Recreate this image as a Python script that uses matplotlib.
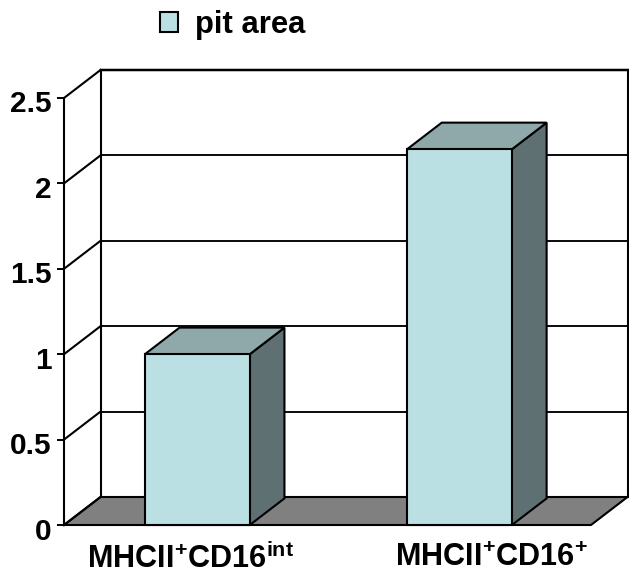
import matplotlib
matplotlib.use('Agg')
import matplotlib.pyplot as plt
from matplotlib.patches import Polygon, Patch
from matplotlib.transforms import ScaledTranslation

plt.rcParams['font.family'] = ['Liberation Sans', 'DejaVu Sans']
plt.rcParams['font.weight'] = 'bold'
plt.rcParams['mathtext.fontset'] = 'custom'
plt.rcParams['mathtext.rm'] = 'Liberation Sans:bold'
plt.rcParams['mathtext.bf'] = 'Liberation Sans:bold'
plt.rcParams['mathtext.it'] = 'Liberation Sans:bold'

categories = [r'MHCII$^{\mathbf{+}}$CD16$^{\mathbf{int}}$', r'MHCII$^{\mathbf{+}}$CD16$^{\mathbf{+}}$']
pit_area = [1.0, 2.2]
ticks = [0, 0.5, 1, 1.5, 2, 2.5]
tick_labels = ['0', '0.5', '1', '1.5', '2', '2.5']
series_name = 'pit area'

W, H = 629, 577
fig = plt.figure(figsize=(W / 100, H / 100), dpi=100)
L, R, B, T = 64, 591, 525, 98
ax = fig.add_axes([L / W, 1 - B / H, (R - L) / W, (B - T) / H])
ax.set_xlim(0, 2)
ax.set_ylim(0, 2.5)
ax.patch.set_visible(False)
for s in ax.spines.values():
    s.set_visible(False)

ddx = 36.5 / (R - L) * 2
ddy = 28 / (B - T) * 2.5
lw = 1.5
col = 'black'

# floor
ax.add_patch(Polygon([(0, 0), (2, 0), (2 + ddx, ddy), (ddx, ddy)], closed=True,
                     fc='#808080', ec='none', clip_on=False, zorder=1))
ax.plot([0, 2, 2 + ddx, ddx, 0], [0, 0, ddy, ddy, 0], color=col, lw=lw, clip_on=False, zorder=1.5)

# walls and gridlines
for t in ticks:
    ax.plot([0, ddx], [t, t + ddy], color=col, lw=lw, clip_on=False, zorder=2)
    ax.plot([ddx, 2 + ddx], [t + ddy, t + ddy], color=col, lw=lw * (1.2 if t == 2.5 else 0.9), clip_on=False, zorder=2)
ax.plot([0, 0], [0, 2.5], color=col, lw=lw, clip_on=False, zorder=2)
ax.plot([ddx, ddx], [ddy, 2.5 + ddy], color=col, lw=lw, clip_on=False, zorder=2)
ax.plot([2 + ddx, 2 + ddx], [ddy, 2.5 + ddy], color=col, lw=lw, clip_on=False, zorder=2)

# bars
bw = 0.398
bdx = ddx * 0.95
bdy = ddy * 0.95
for i, v in enumerate(pit_area):
    x0 = i * 0.995 + 0.5 - bw / 2 + 0.006
    x1 = x0 + bw
    ax.add_patch(Polygon([(x1, 0), (x1 + bdx, bdy), (x1 + bdx, v + bdy), (x1, v)], closed=True,
                         fc='#5E7072', ec=col, lw=lw, clip_on=False, zorder=3))
    ax.add_patch(Polygon([(x0, v), (x1, v), (x1 + bdx, v + bdy), (x0 + bdx, v + bdy)], closed=True,
                         fc='#8FA9AB', ec=col, lw=lw, clip_on=False, zorder=3))
    ax.bar(x0, v, width=bw, align='edge', color='#BBE0E3', edgecolor=col, linewidth=lw, clip_on=False, zorder=4)

ax.set_yticks(ticks)
ax.set_yticklabels(tick_labels, fontsize=21.5, fontweight='bold')
ax.tick_params(axis='y', length=5, width=1.4, pad=3, color=col)
ax.set_xticks([0.5, 1.5])
ax.set_xticklabels(categories, fontsize=22.1, fontweight='bold')
ax.tick_params(axis='x', length=0, pad=13)

# pixel nudges of the tick labels, as in the reference
px = 72 / 100 / 72
for lab in ax.get_yticklabels():
    lab.set_transform(lab.get_transform() + ScaledTranslation(-1 * px, -3.5 * px, fig.dpi_scale_trans))
for lab, dx in zip(ax.get_xticklabels(), [-5.5, 32.5]):
    lab.set_transform(lab.get_transform() + ScaledTranslation(dx * px, 0.5 * px, fig.dpi_scale_trans))

leg_handle = Patch(fc='#BBE0E3', ec=col, lw=1.5, label=series_name)
fig.legend(handles=[leg_handle], loc='center left', bbox_to_anchor=(160 / W, 1 - 25 / H),
           frameon=False, prop={'size': 22.3, 'weight': 'bold'},
           handlelength=0.58, handleheight=0.58, handletextpad=0.55, borderpad=0, borderaxespad=0)

fig.savefig('out.png', dpi=100)
